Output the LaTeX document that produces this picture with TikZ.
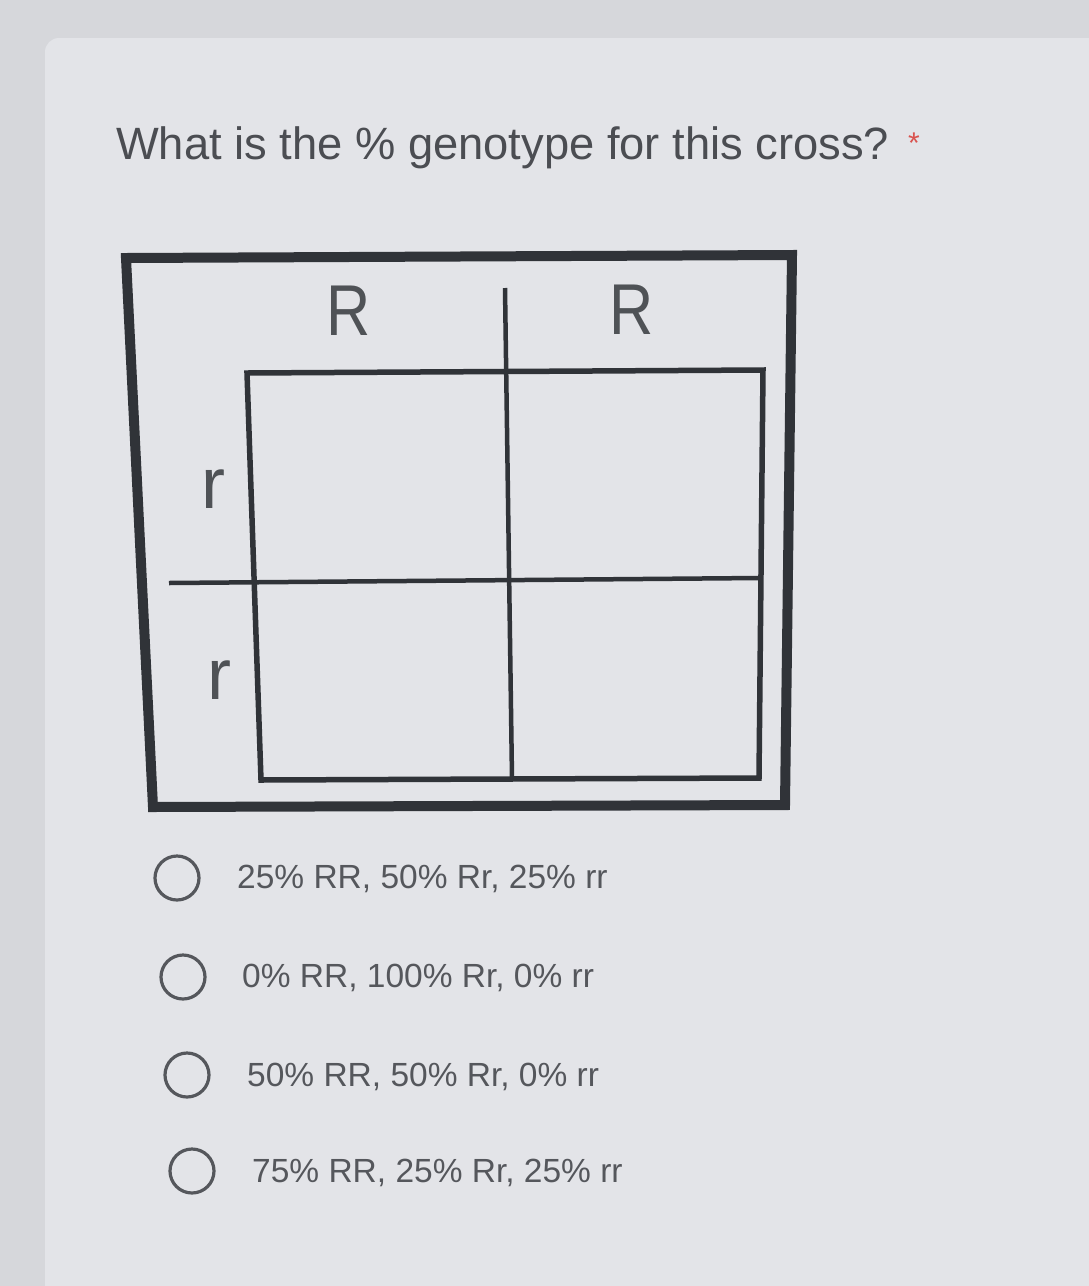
\documentclass[tikz,border=0pt]{standalone}
\usepackage{fontspec}
\setmainfont{Liberation Sans}
\definecolor{bgout}{HTML}{D6D7DB}
\definecolor{card}{HTML}{E3E4E8}
\definecolor{ink}{HTML}{303338}
\definecolor{txt}{HTML}{4B4D52}
\definecolor{opt}{HTML}{55575C}
\definecolor{star}{HTML}{D9534F}
\tikzset{
  outerbox/.style={draw=ink, line width=10pt, line join=miter},
  gridline/.style={draw=ink, line width=5.5pt, line cap=butt},
  allele/.style={text=ink!85, font=\fontsize{72}{76}\selectfont, inner sep=0pt},
  radio/.style={draw=opt, line width=3.2pt},
  optlabel/.style={text=opt, font=\fontsize{33.5}{38}\selectfont, anchor=base west, inner sep=0pt},
}
\begin{document}
\begin{tikzpicture}[x=1pt,y=-1pt]
\useasboundingbox (0,0) rectangle (1089,1286);
\clip (0,0) rectangle (1089,1286);
\fill[bgout] (0,0) rectangle (1089,1286);
\fill[card, rounded corners=14pt] (45,38) rectangle (1120,1320);

% title
\node[text=txt, font=\fontsize{45.3}{52}\selectfont, anchor=base west, inner sep=0pt] (title) at (116,159) {What is the \% genotype for this cross?};
\node[text=star, font=\fontsize{30}{30}\selectfont, anchor=base west, inner sep=0pt] (req) at (908,153) {*};

% outer box (slight perspective)
\coordinate (oTL) at (126,258);
\coordinate (oTR) at (792,255);
\coordinate (oBR) at (785,805);
\coordinate (oBL) at (153,807);
\draw[outerbox] (oTL) -- (oTR) -- (oBR) -- (oBL) -- cycle;

% inner grid
\coordinate (iTL) at (247,373);
\coordinate (iTR) at (763,370);
\coordinate (iBR) at (759,778);
\coordinate (iBL) at (261,780);
\draw[gridline, line join=miter] (iTL) -- (iTR) -- (iBR) -- (iBL) -- cycle;
\coordinate (vTop) at (505,288);
\coordinate (vBot) at (512,779);
\draw[gridline, line width=4.5pt] (vTop) -- (vBot);
\coordinate (hL) at (169,583);
\coordinate (hR) at (760,578);
\draw[gridline, line width=4.5pt] (hL) -- (hR);

% allele labels
\node[allele] (R1) at (349,311) {\scalebox{0.85}[1]{R}};
\node[allele] (R2) at (632,310) {\scalebox{0.85}[1]{R}};
\node[allele] (r1) at (213,489) {r};
\node[allele] (r2) at (219,680) {r};

% options
\draw[radio] (177,878) circle[radius=22];
\node[optlabel] (o1) at (237,888) {25\% RR, 50\% Rr, 25\% rr};
\draw[radio] (183,977) circle[radius=22];
\node[optlabel] (o2) at (242,987) {0\% RR, 100\% Rr, 0\% rr};
\draw[radio] (187,1075) circle[radius=22];
\node[optlabel] (o3) at (247,1086) {50\% RR, 50\% Rr, 0\% rr};
\draw[radio] (192,1171) circle[radius=22];
\node[optlabel] (o4) at (252,1182) {75\% RR, 25\% Rr, 25\% rr};
\end{tikzpicture}
\end{document}
